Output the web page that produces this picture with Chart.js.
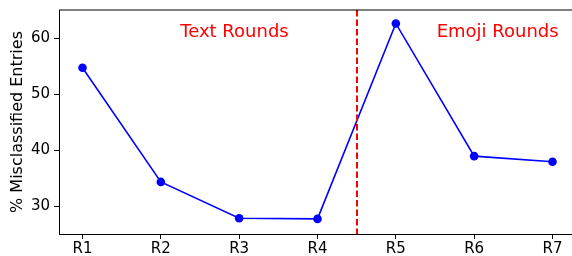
<!DOCTYPE html>
<html>
<head>
<meta charset="utf-8">
<script src="https://cdn.jsdelivr.net/npm/chart.js@4/dist/chart.umd.min.js"></script>
<style>
html,body{margin:0;padding:0;overflow:hidden;background:#fff;}
canvas{display:block;}
</style>
</head>
<body>
<canvas id="c" width="576" height="256"></canvas>
<script>
const categories = ["R1","R2","R3","R4","R5","R6","R7"];
const misclassified = [54.7, 34.3, 27.8, 27.7, 62.6, 38.9, 37.9];
const yTicks = [30, 40, 50, 60];
const dividerAt = 3.5;
const annotations = [
  {text: "Text Rounds", x: 1.94, y: 61.0},
  {text: "Emoji Rounds", x: 5.30, y: 61.0}
];

const FONT = "'DejaVu Sans', sans-serif";

const extras = {
  id: 'extras',
  afterDatasetsDraw(chart) {
    const {ctx, chartArea, scales} = chart;
    const xs = scales.x, ys = scales.y;
    ctx.save();
    const vx = Math.round(xs.getPixelForValue(dividerAt));
    ctx.strokeStyle = '#ff0000';
    ctx.lineWidth = 2;
    ctx.setLineDash([6.5, 3]);
    ctx.beginPath();
    ctx.moveTo(vx, chartArea.top);
    ctx.lineTo(vx, chartArea.bottom);
    ctx.stroke();
    ctx.setLineDash([]);
    ctx.fillStyle = '#ff0000';
    ctx.font = "18px " + FONT;
    ctx.textAlign = 'center';
    ctx.textBaseline = 'middle';
    annotations.forEach(a => {
      ctx.fillText(a.text, xs.getPixelForValue(a.x), ys.getPixelForValue(a.y));
    });
    ctx.strokeStyle = '#000';
    ctx.lineWidth = 1;
    ctx.beginPath();
    ctx.moveTo(chartArea.left, chartArea.top);
    ctx.lineTo(chartArea.right + 2, chartArea.top);
    ctx.stroke();
    ctx.restore();
  }
};

new Chart(document.getElementById('c'), {
  type: 'line',
  data: {
    datasets: [{
      data: misclassified.map((v, i) => ({x: i, y: v})),
      borderColor: '#0000ff',
      backgroundColor: '#0000ff',
      borderWidth: 1.6,
      pointRadius: 4.3,
      pointBorderWidth: 0,
      pointHoverRadius: 4.3,
      tension: 0,
      fill: false
    }]
  },
  options: {
    responsive: false,
    animation: false,
    events: [],
    layout: {autoPadding: false, padding: {top: 10, right: 0, left: 0, bottom: 0}},
    plugins: {legend: {display: false}, tooltip: {enabled: false}},
    scales: {
      x: {
        type: 'linear',
        min: -0.3,
        max: 6.3,
        afterBuildTicks: s => { s.ticks = categories.map((c, i) => ({value: i})); },
        afterFit: s => { s.height = 22; s.paddingLeft = 0; s.paddingRight = 0; },
        ticks: {
          callback: v => categories[v] ?? '',
          color: '#000',
          font: {family: FONT, size: 15},
          padding: 1,
          maxRotation: 0,
          autoSkip: false
        },
        grid: {drawOnChartArea: false, tickLength: 5, tickColor: '#000', tickWidth: 1},
        border: {color: '#000', width: 1}
      },
      y: {
        min: 25,
        max: 65,
        afterBuildTicks: s => { s.ticks = yTicks.map(v => ({value: v})); },
        afterFit: s => { s.width = 59; s.paddingTop = 0; s.paddingBottom = 0; },
        ticks: {
          color: '#000',
          font: {family: FONT, size: 15},
          padding: 4
        },
        grid: {drawOnChartArea: false, tickLength: 5, tickColor: '#000', tickWidth: 1},
        border: {color: '#000', width: 1},
        title: {
          display: true,
          text: '% Misclassified Entries',
          color: '#000',
          font: {family: FONT, size: 16},
          padding: {top: 8, bottom: 0}
        }
      }
    }
  },
  plugins: [extras]
});
</script>
</body>
</html>
